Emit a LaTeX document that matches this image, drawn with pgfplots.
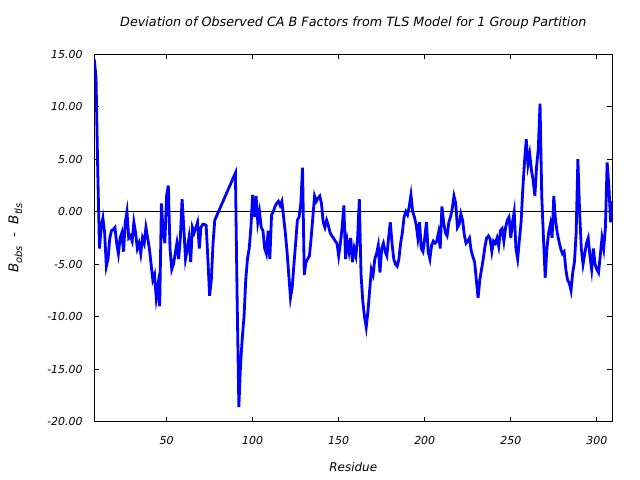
\documentclass[border=0pt]{standalone}
\usepackage{pgfplots}
\pgfplotsset{compat=1.18}
\usepackage{pgfplotstable}
\usepackage{fontspec}
\setmainfont{DejaVu Sans}
\newcommand{\sub}[1]{\raisebox{-0.28em}{\fontsize{10}{12}\selectfont #1}}
\pgfplotstableread{
res val
8 14.5
9 12.8
10 3.9
11 -3.5
12 -1.5
13 -0.6
14 -2.0
15 -5.2
16 -4.5
17 -2.5
18 -1.8
19 -1.7
20 -1.5
21 -3.0
22 -4.0
23 -2.5
24 -2.0
25 -3.8
26 -1.0
27 0.0
28 -2.5
29 -2.3
30 -2.8
31 -1.0
32 -2.0
33 -3.5
34 -3.0
35 -4.0
36 -2.5
37 -3.0
38 -1.5
39 -2.5
40 -3.5
41 -5.0
42 -6.5
43 -6.0
44 -8.2
45 -7.0
46 -9.0
47 0.8
48 -2.0
49 -3.0
50 1.5
51 2.5
52 -3.5
53 -5.5
54 -5.0
55 -4.0
56 -3.0
57 -4.5
58 -2.5
59 1.2
60 -1.5
61 -4.5
62 -3.6
63 -2.5
64 -4.8
65 -1.5
66 -2.0
67 -1.5
68 -1.0
69 -3.5
70 -1.5
71 -1.2
72 -1.2
73 -1.3
74 -4.5
75 -8.0
76 -6.5
77 -3.0
78 -0.8
90 3.7
91 -8.3
92 -18.6
93 -14.5
94 -12.0
95 -10.0
96 -6.5
97 -4.5
98 -3.5
99 -1.5
100 1.6
101 -0.5
102 1.5
103 -1.0
104 0.0
105 -1.5
106 -1.8
107 -3.5
108 -4.0
109 -1.8
110 -4.5
111 -0.3
112 0.0
113 0.5
114 0.8
115 1.0
116 0.6
117 1.0
118 -0.5
119 -2.0
120 -3.8
121 -6.0
122 -8.2
123 -7.2
124 -5.0
125 -3.0
126 -0.8
127 -0.5
128 0.8
129 4.2
130 -6.0
131 -4.8
132 -4.5
133 -4.2
134 -2.5
135 -0.5
136 1.5
137 1.0
138 1.3
139 1.5
140 0.8
141 -1.0
142 -1.5
143 -0.8
144 -1.3
145 -2.0
146 -2.3
147 -2.5
148 -2.8
149 -3.0
150 -4.2
151 -3.0
152 -1.5
153 0.6
154 -4.5
155 -2.8
156 -3.8
157 -2.5
158 -4.8
159 -3.5
160 -4.2
161 -2.5
162 1.2
163 -6.0
164 -8.5
165 -10.0
166 -11.0
167 -9.5
168 -7.5
169 -5.5
170 -6.0
171 -4.5
172 -4.0
173 -3.2
174 -5.8
175 -3.5
176 -3.0
177 -3.8
178 -4.2
179 -2.5
180 -1.0
181 -3.0
182 -4.5
183 -5.0
184 -5.2
185 -4.5
186 -3.0
187 -2.0
188 -0.5
189 0.0
190 -0.3
191 0.5
192 1.6
193 0.0
194 -0.5
195 -1.2
196 -2.5
197 -1.0
198 -3.5
199 -3.8
200 -2.5
201 -1.0
202 -3.8
203 -4.5
204 -3.2
205 -2.8
206 -3.0
207 -2.8
208 -2.0
209 -3.5
210 0.5
211 -1.0
212 -2.0
213 -2.3
214 -1.0
215 -0.5
216 0.3
217 1.5
218 0.8
219 -1.5
220 -1.2
221 -0.2
222 -0.8
223 -2.2
224 -3.0
225 -2.8
226 -2.5
227 -3.7
228 -4.3
229 -4.8
230 -6.5
231 -8.2
232 -6.5
233 -5.5
234 -4.5
235 -3.3
236 -2.5
237 -2.3
238 -2.6
239 -3.8
240 -2.8
241 -3.0
242 -2.5
243 -3.3
244 -1.8
245 -1.6
246 -2.8
247 -1.5
248 -0.8
249 -0.5
250 -2.5
251 -1.0
252 0.0
253 -3.5
254 -4.5
255 -2.7
256 -1.0
257 2.2
258 4.8
259 6.9
260 4.5
261 5.5
262 4.0
263 3.0
264 1.5
265 4.3
266 6.0
267 10.3
268 1.5
269 -2.5
270 -6.3
271 -3.5
272 -2.0
273 -1.2
274 -2.5
275 1.5
276 -0.8
277 -2.0
278 -2.8
279 -3.5
280 -4.0
281 -3.8
282 -5.5
283 -6.5
284 -6.8
285 -7.5
286 -5.8
287 -4.8
288 -2.0
289 5.0
290 0.0
291 -3.5
292 -5.0
293 -4.0
294 -3.0
295 -2.5
296 -4.2
297 -5.5
298 -3.5
299 -5.0
300 -5.5
301 -5.8
302 -4.2
303 -2.5
304 -3.5
305 -1.5
306 4.7
307 2.5
308 -1.0
309 1.0
}\datatable
\begin{document}
\begin{tikzpicture}
\useasboundingbox (0,0) rectangle (640bp,480bp);
\begin{axis}[
  at={(94.3bp,58.3bp)}, anchor=south west,
  scale only axis, width=518bp, height=367.4bp,
  xmin=8, xmax=309, ymin=-20, ymax=15,
  axis line style={black, line width=0.8pt},
  tick style={black, line width=0.8pt},
  tick align=inside, major tick length=5bp,
  xtick={50,100,150,200,250,300},
  xticklabels={50,100,150,200,250,300},
  ytick={-20,-15,-10,-5,0,5,10,15},
  yticklabels={-20.00,-15.00,-10.00,-5.00,0.00,5.00,10.00,15.00},
  tick label style={font=\fontsize{11}{13}\selectfont\itshape},
  xticklabel style={anchor=base, inner sep=0pt, yshift=-23bp},
  yticklabel style={anchor=east, inner sep=0pt, xshift=-11.5bp},
  title={Deviation of Observed CA B Factors from TLS Model for 1 Group Partition},
  title style={font=\fontsize{12.8}{15}\selectfont\itshape, at={(rel axis cs:0.5,1)}, anchor=base, yshift=21.5bp, inner sep=0pt},
  xlabel={Residue},
  xlabel style={font=\fontsize{12}{14}\selectfont\itshape, at={(rel axis cs:0.5,0)}, anchor=base, yshift=-50bp, inner sep=0pt},
  ylabel={B\sub{obs}\ \ -\ \ B\sub{tls}},
  ylabel style={font=\fontsize{13.5}{15}\selectfont\itshape, at={(rel axis cs:0,0.5)}, anchor=base, yshift=76bp, inner sep=0pt},
  clip=true,
]
\addplot[black, line width=0.6pt, forget plot] coordinates {(8,0) (309,0)};
\addplot[blue, line width=2.8bp, line join=miter, no markers] table[x=res, y=val] {\datatable};
\end{axis}
\end{tikzpicture}
\end{document}
